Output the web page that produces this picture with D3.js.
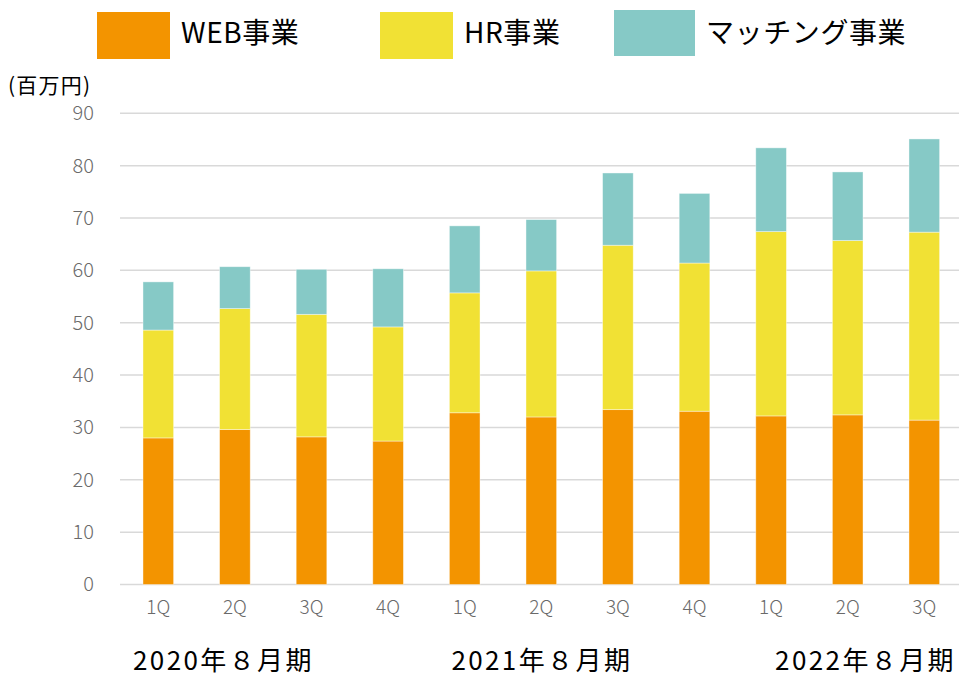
<!DOCTYPE html>
<html><head><meta charset="utf-8">
<script src="https://cdn.jsdelivr.net/npm/d3@7"></script>
<style>
html,body{margin:0;padding:0;background:#fff;}
text{font-family:"Noto Sans CJK JP","Noto Sans",sans-serif;}
</style></head>
<body>
<svg id="chart" width="959" height="678"></svg>
<script>
const categories = ["1Q","2Q","3Q","4Q","1Q","2Q","3Q","4Q","1Q","2Q","3Q"];
const periods = ["2020年８月期","2021年８月期","2022年８月期"];
const seriesNames = ["WEB事業","HR事業","マッチング事業"];
const webValues = [28.0,29.6,28.2,27.4,32.8,32.0,33.4,33.1,32.2,32.4,31.4];
const hrValues = [20.6,23.1,23.4,21.8,22.9,27.9,31.4,28.3,35.2,33.3,35.9];
const matchingValues = [9.2,8.0,8.6,11.1,12.8,9.8,13.8,13.3,16.0,13.1,17.8];
const yTicks = [0,10,20,30,40,50,60,70,80,90];
const unitLabel = "(百万円)";
const colors = ["#F39400","#F1E134","#86C9C6"];

const svg = d3.select("#chart");
const ids = categories.map((c,i)=>i);
const rows = ids.map(i=>({i, web:webValues[i], hr:hrValues[i], match:matchingValues[i]}));
const stack = d3.stack().keys(["web","hr","match"])(rows);

const x = d3.scaleBand().domain(ids).range([120,962.6]).paddingInner(0.6).paddingOuter(0.3);
const y = d3.scaleLinear().domain([0,90]).range([584.5,113.3]);

// gridlines
svg.append("g").selectAll("line").data(yTicks).join("line")
  .attr("x1",120).attr("x2",959)
  .attr("y1",d=>y(d)).attr("y2",d=>y(d))
  .attr("stroke","#d9d9d9").attr("stroke-width",1.5);

// y axis labels
const yAxis = d3.axisLeft(y).tickValues(yTicks).tickSize(0).tickPadding(0);
const gy = svg.append("g").attr("transform","translate(94,0)").call(yAxis);
gy.select(".domain").remove();
gy.selectAll("text").attr("fill","#6a6a6a").style("font-size","20px")
  .style("font-family","'Noto Sans CJK JP','Noto Sans',sans-serif").style("font-weight","300");

// bars
svg.append("g").selectAll("g").data(stack).join("g")
  .attr("fill",(d,k)=>colors[k])
  .selectAll("rect").data(d=>d).join("rect")
  .attr("x",d=>x(d.data.i))
  .attr("width",x.bandwidth())
  .attr("y",d=>y(d[1]))
  .attr("height",d=>y(d[0])-y(d[1]))
  .attr("stroke","#ffffff").attr("stroke-opacity",0.5).attr("stroke-width",0.8);

// x axis labels
const xAxis = d3.axisBottom(x).tickSize(0).tickPadding(0).tickFormat(i=>categories[i]);
const gx = svg.append("g").attr("transform","translate(0,600)").call(xAxis);
gx.select(".domain").remove();
gx.selectAll("text").attr("fill","#6a6a6a").style("font-size","19px")
  .style("font-family","'Noto Sans CJK JP','Noto Sans',sans-serif").style("font-weight","300");

// period labels
const periodPos = [
  {x: x(0)-10, anchor:"start"},
  {x: x(4)+2, anchor:"start"},
  {x: 956, anchor:"end"}
];
svg.append("g").selectAll("text").data(periods).join("text")
  .attr("x",(d,i)=>periodPos[i].x).attr("y",670)
  .attr("text-anchor",(d,i)=>periodPos[i].anchor)
  .attr("fill","#000").style("font-size","26px").style("letter-spacing","2.4px").text(d=>d);

// unit label
svg.append("text").attr("x",8).attr("y",93).attr("fill","#000")
  .style("font-size","21px").style("letter-spacing","1.2px").text(unitLabel);

// legend
const legendX = [97,380,614];
const lg = svg.append("g").selectAll("g").data(seriesNames).join("g")
  .attr("transform",(d,i)=>`translate(${legendX[i]},0)`);
lg.append("rect").attr("x",0).attr("y",(d,i)=>i===2?10:12)
  .attr("width",(d,i)=>i===2?81:73).attr("height",(d,i)=>i===2?46:47)
  .attr("fill",(d,i)=>colors[i]);
lg.append("text").attr("x",(d,i)=>i===2?92:84).attr("y",43)
  .attr("fill","#000").style("font-size","28px").style("letter-spacing","0.6px").text(d=>d);
</script>
</body></html>
